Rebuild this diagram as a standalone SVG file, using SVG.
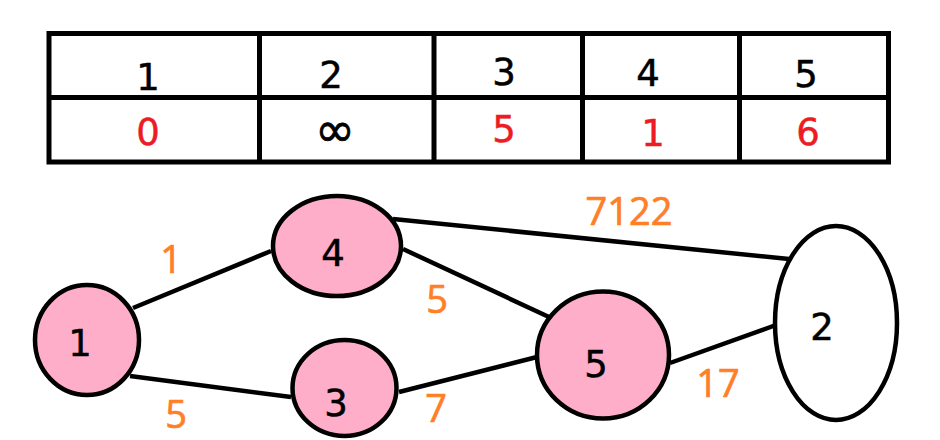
<svg xmlns="http://www.w3.org/2000/svg" width="940" height="440" viewBox="0 0 940 440">
<style>
.grid{fill:none;stroke:#000;stroke-width:5}
.node{fill:#FFAEC9;stroke:#000;stroke-width:4.5}
.white{fill:#fff;stroke:#000;stroke-width:4.5}
.edge{stroke:#000;stroke-width:4.5;fill:none}
.t{font-family:"DejaVu Sans",sans-serif;font-size:37px;text-anchor:middle;fill:#000;stroke:#000;stroke-width:0.5}
.r{fill:#ED1C24;stroke:#ED1C24}
.w{font-family:"Open Sans","Noto Sans",sans-serif;font-size:38px;text-anchor:middle;fill:#FF7F27;stroke:#FF7F27;stroke-width:0.7}
.inf{font-size:48px;stroke-width:0.8}
</style>
<rect width="940" height="440" fill="#fff"/>
<g id="table">
<rect class="grid" x="49" y="33.5" width="839.5" height="128.5"/>
<line class="grid" x1="49" y1="97.5" x2="888.5" y2="97.5"/>
<line class="grid" x1="259.5" y1="33.5" x2="259.5" y2="162"/>
<line class="grid" x1="434" y1="33.5" x2="434" y2="162"/>
<line class="grid" x1="582.5" y1="33.5" x2="582.5" y2="162"/>
<line class="grid" x1="739.5" y1="33.5" x2="739.5" y2="162"/>
<text class="t" x="148" y="90">1</text>
<text class="t" x="331" y="88">2</text>
<text class="t" x="504" y="85">3</text>
<text class="t" x="648" y="86">4</text>
<text class="t" x="806" y="87">5</text>
<text class="t r" x="148" y="145">0</text>
<text class="t inf" x="335" y="146">∞</text>
<text class="t r" x="504" y="142">5</text>
<text class="t r" x="653" y="146">1</text>
<text class="t r" x="808" y="145">6</text>
</g>
<g id="connectors">
<line class="edge" x1="133" y1="308" x2="271" y2="251"/>
<line class="edge" x1="130" y1="376" x2="291" y2="397"/>
<line class="edge" x1="393" y1="219" x2="789" y2="259"/>
<line class="edge" x1="403" y1="249" x2="549" y2="317"/>
<line class="edge" x1="399" y1="392" x2="537" y2="357"/>
<line class="edge" x1="670" y1="363" x2="776" y2="325"/>
<text class="w" x="171" y="273">1</text>
<text class="w" x="176" y="428">5</text>
<text class="w" x="437" y="313">5</text>
<text class="w" x="436" y="422">7</text>
<text class="w" x="629" y="225">7122</text>
<text class="w" x="718" y="397">17</text>
</g>
<g id="node1">
<ellipse class="node" cx="87" cy="340" rx="52" ry="55"/>
<text class="t" x="80" y="356">1</text>
</g>
<g id="node4">
<ellipse class="node" cx="337" cy="246" rx="64" ry="50"/>
<text class="t" x="333" y="266">4</text>
</g>
<g id="node3">
<ellipse class="node" cx="344.5" cy="388" rx="52" ry="48"/>
<text class="t" x="336" y="416">3</text>
</g>
<g id="node5">
<ellipse class="node" cx="603" cy="355" rx="66" ry="63.5"/>
<text class="t" x="596" y="377">5</text>
</g>
<g id="node2">
<ellipse class="white" cx="836" cy="323" rx="61" ry="97"/>
<text class="t" x="822" y="340">2</text>
</g>
</svg>
